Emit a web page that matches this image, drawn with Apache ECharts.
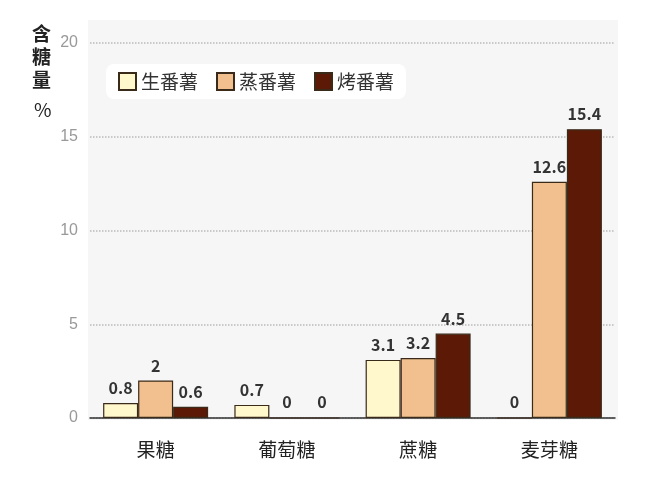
<!DOCTYPE html><html><head><meta charset="utf-8"><script src="https://cdn.jsdelivr.net/npm/echarts@6/dist/echarts.min.js"></script></head><body style="margin:0"><div id="c" style="width:650px;height:486px"></div><script>
const categories=['果糖','葡萄糖','蔗糖','麦芽糖'];
const raw=[0.8,0.7,3.1,0];
const steamed=[2,0,3.2,12.6];
const baked=[0.6,0,4.5,15.4];
const yTicks=[0,5,10,15,20];
const F='"Noto Sans CJK SC"';
const c=echarts.init(document.getElementById('c'));
const mk=(name,data,color)=>({name,type:'bar',data,barWidth:35,barGap:'0%',itemStyle:{color,borderColor:'#3a2a1a',borderWidth:1.2},
 label:{show:true,position:'top',distance:7,color:'#333',fontSize:16,fontWeight:'bold',fontFamily:F}});
c.setOption({
 graphic:[{type:'rect',left:88,top:20,shape:{width:530,height:400},style:{fill:'#f6f6f6'},z:-10},
  {type:'text',left:32,top:22,style:{text:'含\n糖\n量',font:'bold 19px '+F,fill:'#222',lineHeight:23}},
  {type:'text',left:34,top:100,style:{text:'%',font:'19px '+F,fill:'#222'}}],
 legend:{left:106,top:64,itemWidth:17,itemHeight:17,itemGap:18,padding:[8,12],backgroundColor:'#fff',borderRadius:8,
  textStyle:{fontSize:19,color:'#333',fontFamily:F},data:['生番薯','蒸番薯','烤番薯'],icon:'rect'},
 grid:{left:90,right:35,top:43,bottom:68},
 xAxis:{type:'category',data:categories,axisTick:{show:false},axisLine:{lineStyle:{color:'#333',width:1.5}},
  axisLabel:{fontSize:19,color:'#222',margin:22,fontFamily:F}},
 yAxis:{type:'value',min:0,max:20,interval:5,axisLabel:{color:'#999',fontSize:16,margin:12},
  splitLine:{lineStyle:{type:'dotted',color:'#bbb',width:1.5}}},
 series:[mk('生番薯',raw,'#fff8cc'),mk('蒸番薯',steamed,'#f1c08e'),mk('烤番薯',baked,'#5c1a06')]
});
</script></body></html>
